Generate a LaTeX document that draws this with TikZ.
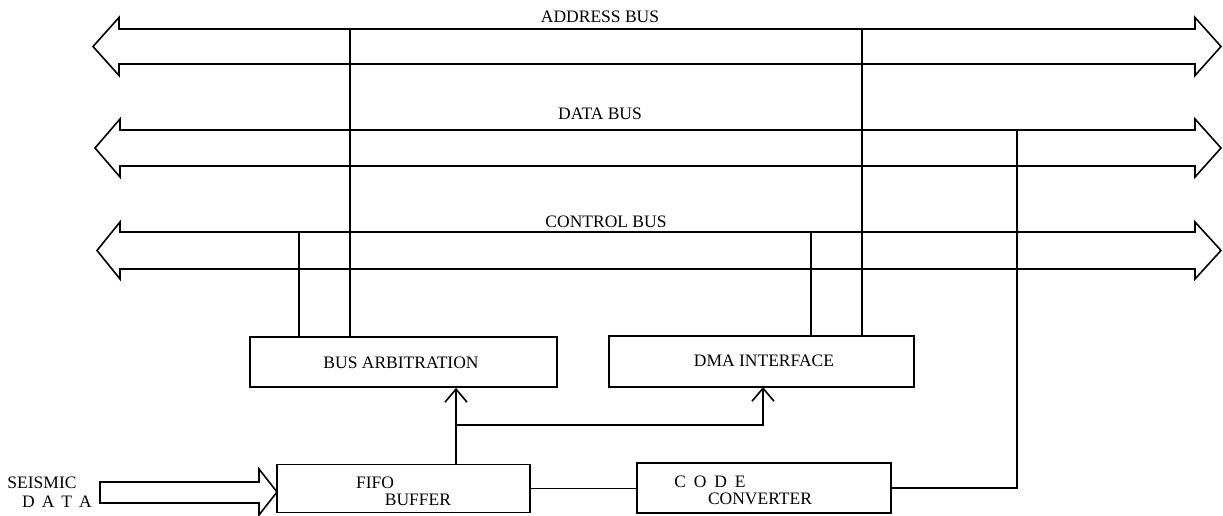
\documentclass[tikz,border=0pt]{standalone}
\usepackage{fontspec}
\setmainfont{Liberation Serif}
\usetikzlibrary{arrows.meta}
\begin{document}
\begin{tikzpicture}[x=1pt,y=-1pt,
  ln/.style={line width=1.6pt},
  bus/.style={draw, line width=1.6pt, line join=miter},
  box/.style={draw, line width=1.8pt, inner sep=0pt},
  lbl/.style={font=\fontsize{17.5}{20}\selectfont, inner sep=0pt, anchor=base},
  tip/.style={-{Straight Barb[length=13pt,width=22pt,line width=1.6pt]}}]
\useasboundingbox (0,0) rectangle (1223,516);

% buses
\draw[bus] (93,46.5) -- (119,17.5) -- (119,29) -- (1195,29) -- (1195,17.5) -- (1221,46.5)
  -- (1195,75.5) -- (1195,64) -- (119,64) -- (119,75.5) -- cycle;
\draw[bus] (95,148) -- (120,119) -- (120,130) -- (1195,130) -- (1195,119) -- (1221,148)
  -- (1195,177) -- (1195,166) -- (120,166) -- (120,177) -- cycle;
\draw[bus] (97,250.5) -- (120,222) -- (120,232) -- (1195,232) -- (1195,222) -- (1221,250.5)
  -- (1195,279) -- (1195,269) -- (120,269) -- (120,279) -- cycle;

\node[lbl] (addrlbl) at (600,23) {ADDRESS BUS};
\node[lbl] (datalbl) at (600,120) {DATA BUS};
\node[lbl] (ctrllbl) at (606,227) {CONTROL BUS};

% bus taps
\coordinate (addrA) at (350,29);
\coordinate (addrB) at (862,29);
\coordinate (dataA) at (1017,130);
\coordinate (ctrlA) at (299,232);
\coordinate (ctrlB) at (811,232);

% boxes
\node[box, minimum width=307pt, minimum height=50pt] (arb) at (403.5,362) {};
\node[box, minimum width=305pt, minimum height=51pt] (dma) at (761.5,361.5) {};
\node[box, minimum width=253pt, minimum height=48pt] (fifo) at (403.5,488.5) {};
\node[box, minimum width=254pt, minimum height=50pt] (code) at (764,488) {};

\node[lbl] (arbtxt) at (401,368) {BUS ARBITRATION};
\node[lbl] (dmatxt) at (764,366) {DMA INTERFACE};
\node[lbl] (fifotxt) at (375,488) {FIFO};
\node[lbl] (buftxt) at (418,505) {BUFFER};
\node[lbl] (codetxt) at (710,487) {C\hspace{0.45em}O\hspace{0.45em}D\hspace{0.45em}E};
\node[lbl] (convtxt) at (760,504) {CONVERTER};
\node[lbl] (seistxt) at (42,488) {SEISMIC};
\node[lbl] (datatxt) at (57,507) {D\hspace{0.4em}A\hspace{0.4em}T\hspace{0.4em}A};

% seismic input arrow
\draw[bus] (100,482) -- (259,482) -- (259,469) -- (277,492) -- (259,515) -- (259,503) -- (100,503) -- cycle;

% connections to buses
\draw[ln] (addrA) -- (addrA |- arb.north);
\draw[ln] (ctrlA) -- (ctrlA |- arb.north);
\draw[ln] (addrB) -- (addrB |- dma.north);
\draw[ln] (ctrlB) -- (ctrlB |- dma.north);
\draw[ln] (code.east) -| (dataA);

% internal connections
\draw[ln] (fifo.east) -- (code.west |- fifo.east);
\coordinate (split) at (456,425);
\coordinate (dmaIn) at (763,387);
\draw[ln,tip] (split |- fifo.north) -- (split |- arb.south);
\draw[ln,tip] (split) -| (dmaIn);
\end{tikzpicture}
\end{document}
